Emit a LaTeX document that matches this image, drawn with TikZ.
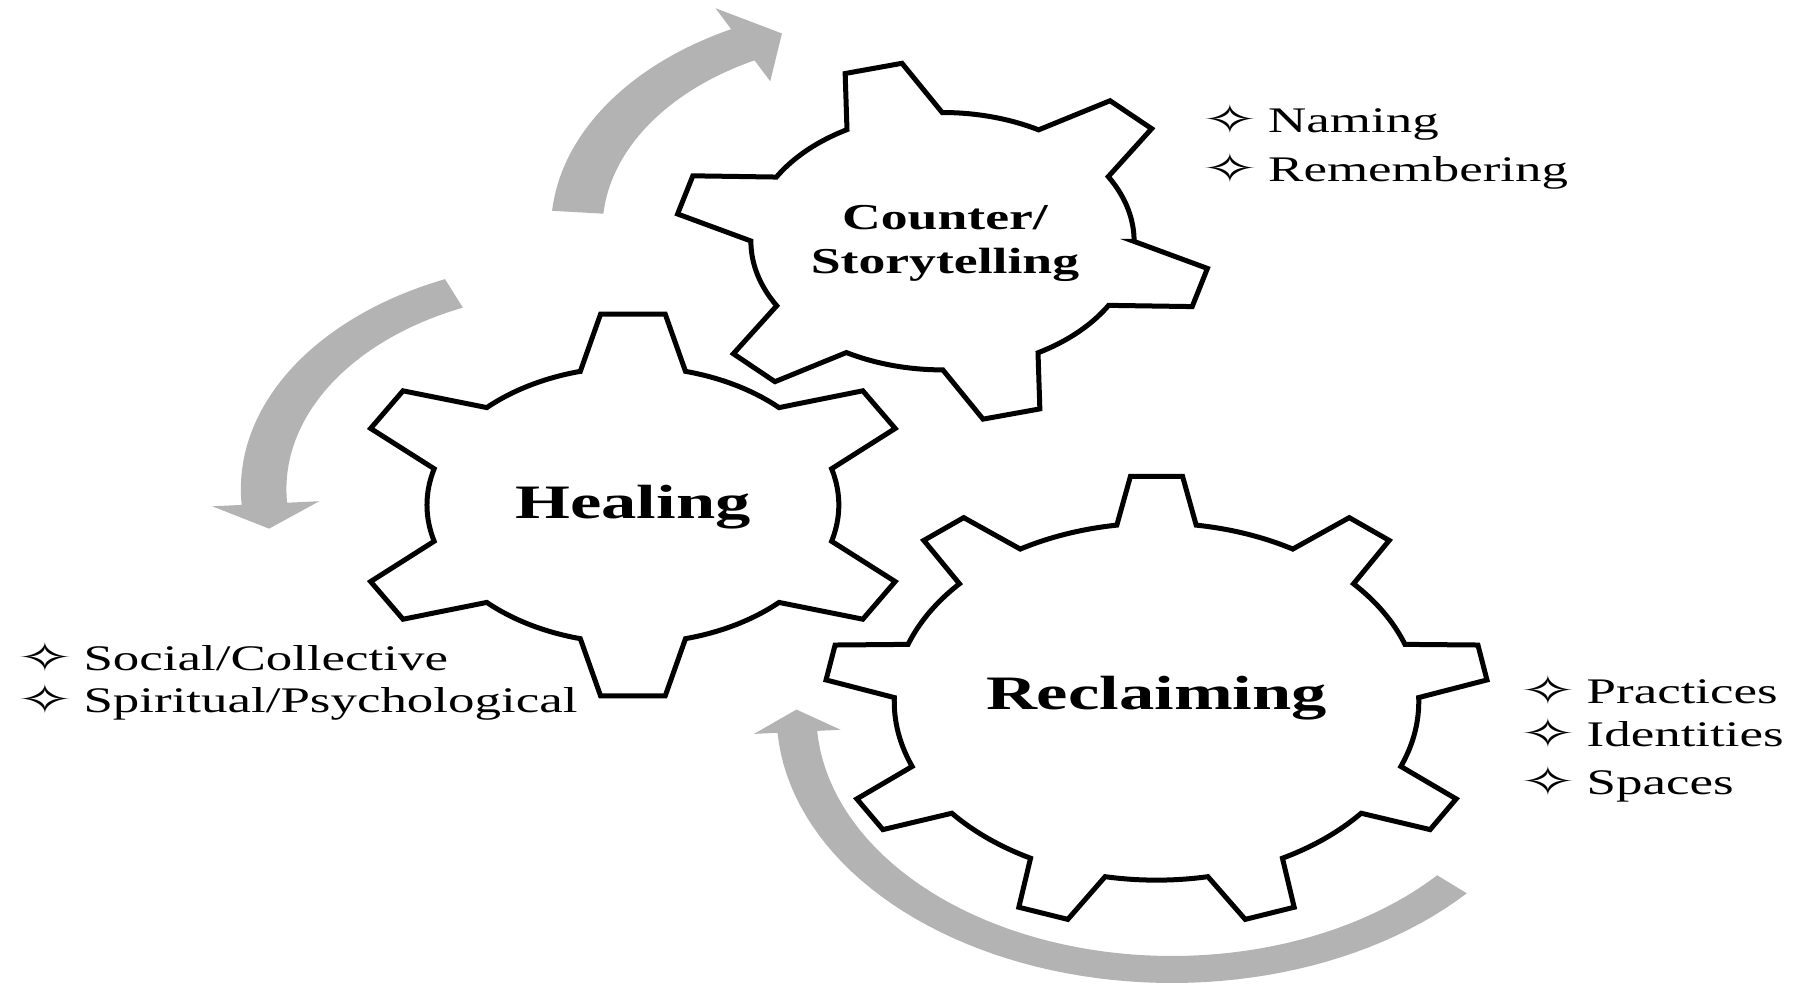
\documentclass[tikz,border=0pt]{standalone}
\usepackage{fontspec}
\setmainfont{Liberation Serif}
\newfontfamily\symfnt{DejaVu Sans}
\usepackage{graphicx}
\definecolor{arrowgrey}{RGB}{179,179,179}
\newcommand\sxf{1.47}
% gear: #1 cx, #2 cy, #3 a, #4 b, #5 teeth, #6 phase, #7 root ratio, #8 tip half-angle, #9 base half-angle
\newcommand\gearshape[9]{%
  \draw[gearline] ({#1+#7*#3*cos(#6-#9)},{#2+#7*#4*sin(#6-#9)})
  \foreach \k [evaluate=\k as \tm using {#6+(\k-1)*360/#5},
               evaluate=\k as \tb using {#6+(\k-1)*360/#5+#9},
               evaluate=\k as \tc using {#6+\k*360/#5-#9}] in {1,...,#5}{
    -- ({#1+#3*cos(\tm-#8)},{#2+#4*sin(\tm-#8)})
    -- ({#1+#3*cos(\tm+#8)},{#2+#4*sin(\tm+#8)})
    -- plot[domain=\tb:\tc,samples=25] ({#1+#7*#3*cos(\x)},{#2+#7*#4*sin(\x)})
  } -- cycle;
}
% curved arrow: #1 cx, #2 cy, #3 Rin, #4 Rout, #5 tail angle, #6 head-base angle, #7 inner barb r, #8 outer barb r, #9 tip angle
\newcommand\ringarrow[9]{%
  \fill[arrowgrey] plot[domain=#5:#6,samples=60] ({#1+\sxf*#4*cos(\x)},{#2+#4*sin(\x)})
    -- ({#1+\sxf*#8*cos(#6)},{#2+#8*sin(#6)})
    -- ({#1+\sxf*(#3+#4)/2*cos(#9)},{#2+(#3+#4)/2*sin(#9)})
    -- ({#1+\sxf*#7*cos(#6)},{#2+#7*sin(#6)})
    -- plot[domain=#6:#5,samples=60] ({#1+\sxf*#3*cos(\x)},{#2+#3*sin(\x)})
    -- cycle;
}
\newcommand\bul{\raisebox{-1pt}{\scalebox{1.3}[1.1]{\symfnt ✧}}}
\newcommand\itemtext[1]{\scalebox{1.47}[1]{\fontsize{36}{40}\selectfont\makebox[45.6pt][l]{\bul}#1}}
\begin{document}
\begin{tikzpicture}[x=1pt,y=-1pt,
  gearline/.style={draw=black,line width=5pt,fill=white,line join=miter},
  gearlabel/.style={inner sep=0pt,anchor=base},
  listitem/.style={inner sep=0pt,anchor=base west}]
\useasboundingbox (0,0) rectangle (1813,983);
\fill[white] (0,0) rectangle (1813,983);
% grey circular arrows
\ringarrow{881}{229.2}{189.5}{224.5}{-175.3}{-117}{166}{248}{-109}
\ringarrow{576}{489}{197}{228}{-113}{-184}{175}{248}{-190.75}
\ringarrow{1172}{714}{242}{269}{41.8}{176}{226}{285}{181}
% gears
\gearshape{942.5}{241.2}{268}{180}{6}{15}{0.715}{6.3}{14.9}
\gearshape{632.9}{505}{286}{192}{6}{-90}{0.72}{6.5}{14.8}
\gearshape{1156.5}{701.6}{332}{226}{9}{-90}{0.79}{4.5}{8.7}
% gear labels
\node[gearlabel] (story) at (945,229) {\scalebox{1.47}[1]{\fontsize{36.5}{44}\selectfont\bfseries\begin{tabular}[t]{@{}c@{}}Counter/\\Storytelling\end{tabular}}};
\node[gearlabel] (heal) at (633,518) {\scalebox{1.47}[1]{\fontsize{48}{52}\selectfont\bfseries Healing}};
\node[gearlabel] (recl) at (1156.5,709) {\scalebox{1.47}[1]{\fontsize{48}{52}\selectfont\bfseries Reclaiming}};
% lists
\node[listitem] (naming) at (1201,132) {\itemtext{Naming}};
\node[listitem] (remem) at (1201,181) {\itemtext{Remembering}};
\node[listitem] (social) at (16.3,670) {\itemtext{Social/Collective}};
\node[listitem] (spirit) at (16.3,712) {\itemtext{Spiritual/Psychological}};
\node[listitem] (pract) at (1519.5,703) {\itemtext{Practices}};
\node[listitem] (ident) at (1519.5,746) {\itemtext{Identities}};
\node[listitem] (spaces) at (1519.5,794) {\itemtext{Spaces}};
\end{tikzpicture}
\end{document}
